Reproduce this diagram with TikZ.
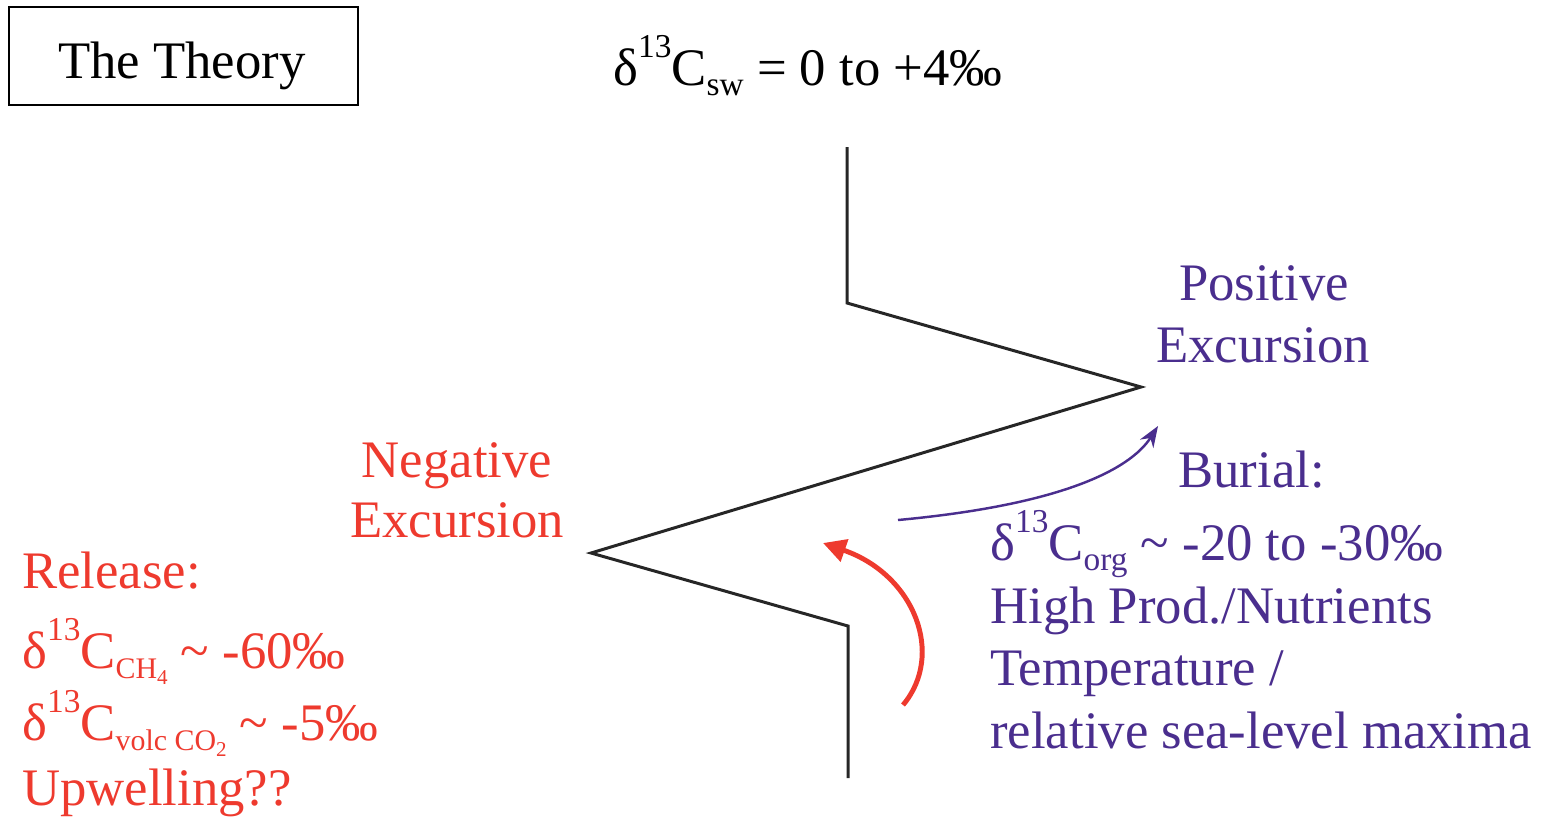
\documentclass[tikz,border=0pt]{standalone}
\usepackage{fontspec}
\setmainfont{Liberation Serif}
\usetikzlibrary{arrows.meta,positioning}
\definecolor{negred}{RGB}{238,58,46}
\definecolor{pospurple}{RGB}{74,46,142}
% raised / lowered isotope labels
\newcommand\isoup[1]{\raisebox{0.52em}{\fontsize{19}{19}\selectfont #1}}
\newcommand\isodn[2][19]{\raisebox{-0.2em}{\fontsize{#1}{#1}\selectfont #2}}

\begin{document}
\begin{tikzpicture}[x=0.02cm,y=-0.02cm,
  big/.style={font=\fontsize{30}{36}\selectfont, inner sep=0pt},
  line/.style={big, anchor=base west},
  mid/.style={big, anchor=base}]
\useasboundingbox (0,0) rectangle (1550,816);
% Title box
\node[big, draw, line width=1.1pt, minimum width=6.98cm, text height=1.42cm, text depth=0.54cm] (theory) at (183.5,56) {\hspace*{-2pt}The Theory};
% Sea-water value
\node[line] (sw) at (613,85) {δ\isoup{13}C\isodn{sw} = 0 to +4‰};
% Zigzag curve
\coordinate (top) at (847,147);
\coordinate (k1) at (847,303);
\coordinate (pos) at (1141,387);
\coordinate (neg) at (591,553);
\coordinate (k2) at (848,626);
\coordinate (bot) at (848,778);
\draw[line width=1.7pt, black!85] (top) -- (k1) -- (pos) -- (neg) -- (k2) -- (bot);
% Excursion labels
\node[mid, pospurple] (pos1) at (1264,300) {Positive};
\node[mid, pospurple] (pos2) at (1263,362) {Excursion};
\node[mid, negred] (neg1) at (457,477) {Negative};
\node[mid, negred] (neg2) at (457,537) {Excursion};
% Release (red)
\node[line, negred] (rel) at (22,588) {Release:};
\node[line, negred] (ch4) at (22,668) {δ\isoup{13}C\isodn[17]{CH\isodn[12]{4}} \textasciitilde{} -60‰};
\node[line, negred] (volc) at (22,740) {δ\isoup{13}C\isodn[17]{volc CO\isodn[12]{2}} \textasciitilde{} -5‰};
\node[line, negred] (upw) at (22,805) {Upwelling??};
% Burial (purple)
\node[line, pospurple] (bur) at (1178,487) {Burial:};
\node[line, pospurple] (org) at (990,560) {δ\isoup{13}C\isodn{org} \textasciitilde{} -20 to -30‰};
\node[line, pospurple] (prod) at (990,623) {High Prod./Nutrients};
\node[line, pospurple] (temp) at (990,685) {Temperature /};
\node[line, pospurple] (sea) at (990,748) {relative sea-level maxima};
% Arrows
\coordinate (bs) at (898,520);
\coordinate (be) at (1158,426);
\draw[pospurple, line width=1.4pt, -{Stealth[length=12pt,width=9pt]}] (bs) .. controls (1060,505) and (1130,470) .. (be);
\coordinate (rs) at (903,705);
\coordinate (re) at (823,543);
\draw[negred, line width=2.8pt, -{Triangle[length=13pt,width=13pt]}] (rs) .. controls (945,655) and (915,575) .. (re);
\end{tikzpicture}
\end{document}
